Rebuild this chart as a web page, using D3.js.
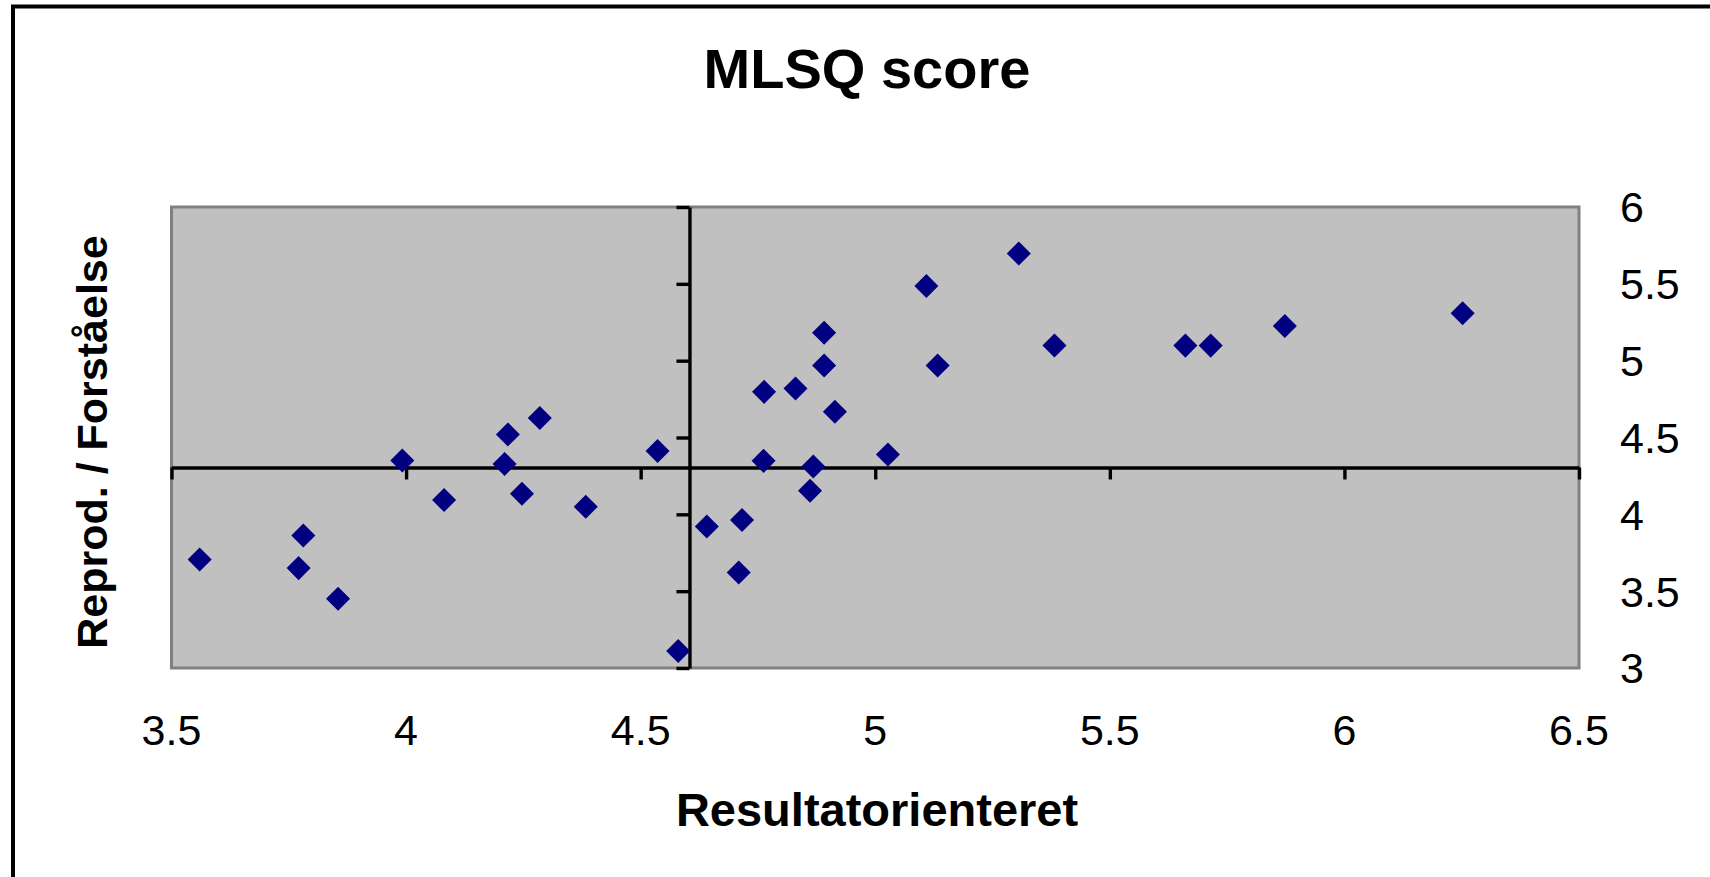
<!DOCTYPE html>
<html>
<head>
<meta charset="utf-8">
<script src="https://cdn.jsdelivr.net/npm/d3@7"></script>
<style>
  body { margin: 0; background: #fff; }
  svg { display: block; font-family: 'Liberation Sans', Arial, sans-serif; }
</style>
</head>
<body>
<svg id="chart" width="1710" height="877"></svg>
<script>
'use strict';

var resultatorienteret = [3.56, 3.771, 3.781, 3.855, 3.992, 4.081, 4.217, 4.21, 4.247, 4.285, 4.383,
  4.536, 4.58, 4.641, 4.716, 4.709, 4.763, 4.762, 4.83, 4.868, 4.861, 4.891, 4.891, 4.914, 5.027,
  5.109, 5.133, 5.306, 5.382, 5.661, 5.715, 5.873, 6.252];
var forstaaelse = [3.706, 3.65, 3.862, 3.451, 4.35, 4.093, 4.52, 4.328, 4.134, 4.627, 4.049,
  4.412, 3.111, 3.921, 3.963, 3.622, 4.797, 4.348, 4.819, 4.311, 4.154, 5.181, 4.968, 4.668, 4.389,
  5.486, 4.968, 5.697, 5.099, 5.098, 5.098, 5.226, 5.309];
var xTicks = [3.5, 4, 4.5, 5, 5.5, 6, 6.5];
var yTicks = [3, 3.5, 4, 4.5, 5, 5.5, 6];
var crossAt = { x: 4.604, y: 4.305 };

function drawChart() {
  var svg = d3.select('#chart');
  var plot = { left: 171.5, right: 1579, top: 207, bottom: 668 };

  var x = d3.scaleLinear().domain([3.5, 6.5]).range([plot.left, plot.right]);
  var y = d3.scaleLinear().domain([3, 6]).range([plot.bottom, plot.top]);

  // chart area border (right / bottom edges fall outside the picture)
  svg.append('rect')
    .attr('x', 13).attr('y', 6.5)
    .attr('width', 1800).attr('height', 1000)
    .attr('fill', '#fff')
    .attr('stroke', '#000')
    .attr('stroke-width', 4);

  svg.append('rect')
    .attr('x', plot.left).attr('y', plot.top)
    .attr('width', plot.right - plot.left)
    .attr('height', plot.bottom - plot.top)
    .attr('fill', '#c0c0c0')
    .attr('stroke', '#808080')
    .attr('stroke-width', 3);

  var xAxis = svg.append('g')
    .attr('transform', 'translate(0,' + y(crossAt.y) + ')')
    .call(d3.axisBottom(x).tickValues(xTicks).tickSize(12).tickSizeOuter(0).tickFormat(''));

  var yAxis = svg.append('g')
    .attr('transform', 'translate(' + x(crossAt.x) + ',0)')
    .call(d3.axisLeft(y).tickValues(yTicks).tickSize(13).tickSizeOuter(0).tickFormat(''));

  [xAxis, yAxis].forEach(function(axis) {
    axis.selectAll('path, line')
      .attr('stroke', '#000')
      .attr('stroke-width', 3.4);
  });

  // tick labels sit outside the plot area (low for x, high for y)
  svg.append('g').selectAll('text')
    .data(xTicks)
    .enter()
    .append('text')
    .attr('x', function(d) { return x(d); })
    .attr('y', 745)
    .attr('text-anchor', 'middle')
    .style('font-size', '43px')
    .text(function(d) { return String(d); });

  svg.append('g').selectAll('text')
    .data(yTicks)
    .enter()
    .append('text')
    .attr('x', 1620)
    .attr('y', function(d) { return y(d); })
    .attr('dy', '0.36em')
    .attr('text-anchor', 'start')
    .style('font-size', '43px')
    .text(function(d) { return String(d); });

  var points = d3.zip(resultatorienteret, forstaaelse);
  var diamond = d3.symbol().type(d3.symbolSquare).size(289);

  svg.append('g').selectAll('path')
    .data(points)
    .enter()
    .append('path')
    .attr('d', diamond)
    .attr('transform', function(d) {
      return 'translate(' + x(d[0]) + ',' + y(d[1]) + ') rotate(45)';
    })
    .attr('fill', '#000080');

  svg.append('text')
    .attr('x', 867)
    .attr('y', 88)
    .attr('text-anchor', 'middle')
    .style('font-size', '56px')
    .style('font-weight', 'bold')
    .text('MLSQ score');

  svg.append('text')
    .attr('x', 877)
    .attr('y', 826)
    .attr('text-anchor', 'middle')
    .style('font-size', '47px')
    .style('font-weight', 'bold')
    .text('Resultatorienteret');

  svg.append('text')
    .attr('transform', 'translate(107,442) rotate(-90)')
    .attr('text-anchor', 'middle')
    .style('font-size', '43px')
    .style('font-weight', 'bold')
    .text('Reprod. / Forståelse');
}

drawChart();
</script>
</body>
</html>
